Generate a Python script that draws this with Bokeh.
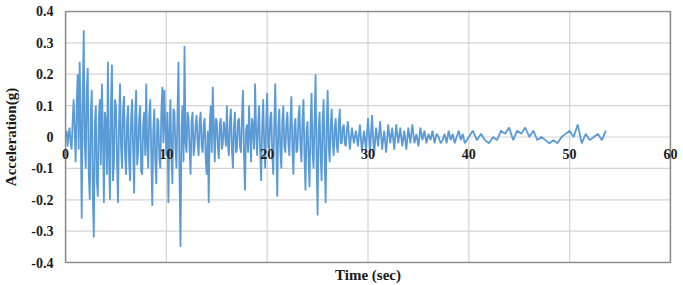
import numpy as np
from bokeh.plotting import figure
from bokeh.models import Range1d, FixedTicker, LinearAxis
from bokeh.embed import file_html
from bokeh.resources import INLINE

# ---- data ----
dt_a = 0.1   # s, 0 - 27.9 s
dt_b = 0.2   # s, 28 - 39.8 s
dt_c = 0.4   # s, 40 - 53.6 s

acc_a = [
    0.00, 0.02, -0.03, 0.01, 0.03, -0.02, -0.04, 0.05, 0.12, 0.02,
    -0.08, 0.10, 0.20, -0.04, 0.24, 0.05, -0.26, 0.12, 0.34, -0.02,
    -0.10, 0.15, 0.22, -0.12, -0.20, 0.08, 0.15, -0.18, -0.32, 0.04,
    0.10, -0.14, -0.19, 0.06, 0.12, -0.09, 0.17, 0.02, -0.21, 0.08,
    0.05, -0.12, 0.24, -0.06, -0.20, 0.10, 0.23, -0.14, -0.08, 0.12,
    0.10, -0.07, -0.21, 0.04, 0.17, -0.03, -0.10, 0.09, 0.13, -0.06,
    -0.12, 0.05, 0.10, -0.08, -0.14, 0.06, 0.12, -0.04, -0.18, 0.07,
    0.15, -0.09, -0.05, 0.06, 0.10, -0.11, -0.12, 0.04, 0.08, -0.06,
    0.17, -0.03, -0.10, 0.07, 0.12, -0.05, -0.22, 0.02, 0.09, -0.08,
    -0.15, 0.06, 0.05, -0.07, -0.10, 0.08, 0.16, -0.02, 0.15, 0.03,
    -0.06, 0.08, -0.21, 0.01, 0.12, -0.06, -0.15, 0.09, 0.08, -0.04,
    -0.10, 0.07, 0.24, -0.12, -0.35, 0.03, 0.10, -0.08, 0.29, -0.02,
    -0.05, 0.08, 0.06, -0.04, -0.12, 0.05, 0.08, -0.06, -0.03, 0.04,
    0.07, -0.02, -0.06, 0.05, 0.08, -0.03, -0.05, 0.04, 0.06, -0.07,
    -0.12, 0.02, -0.21, 0.04, 0.10, -0.05, 0.16, 0.03, -0.08, 0.06,
    0.05, -0.03, -0.07, 0.04, 0.06, -0.04, -0.02, 0.05, 0.02, -0.03,
    0.10, -0.02, -0.06, 0.05, 0.09, -0.04, -0.10, 0.03, 0.08, -0.05,
    -0.04, 0.05, 0.06, -0.03, -0.05, 0.07, 0.15, -0.06, -0.17, 0.02,
    0.04, -0.05, 0.10, 0.01, -0.08, 0.06, 0.03, -0.04, 0.17, 0.02,
    -0.06, 0.04, 0.10, -0.05, -0.14, 0.03, 0.12, -0.02, -0.10, 0.05,
    0.14, -0.03, -0.04, 0.06, 0.08, -0.05, -0.12, 0.04, 0.17, -0.02,
    -0.19, 0.03, 0.09, -0.04, -0.10, 0.05, 0.10, -0.03, -0.05, 0.04,
    0.08, -0.02, -0.06, 0.05, 0.13, -0.04, -0.12, 0.03, 0.06, -0.05,
    -0.04, 0.06, 0.10, -0.03, -0.08, 0.05, 0.12, -0.06, -0.17, 0.02,
    0.05, -0.07, -0.16, 0.04, 0.14, -0.05, -0.10, 0.06, 0.20, -0.08,
    -0.25, 0.03, 0.08, -0.06, -0.14, 0.05, 0.12, -0.07, -0.21, 0.04,
    0.15, -0.03, -0.08, 0.04, 0.09, -0.02, -0.06, 0.03, 0.06, -0.03,
    -0.05, 0.04, 0.09, -0.02, -0.02, 0.03, 0.04, -0.02, -0.03, 0.02,
]
acc_b = [
    0.05, -0.04, 0.03, -0.02, 0.02, -0.03, 0.04, -0.05, 0.02, -0.04,
    0.06, -0.05, 0.07, -0.06, 0.03, -0.03, 0.05, -0.04, 0.02, -0.05,
    0.04, -0.02, 0.03, -0.04, 0.04, -0.02, 0.03, -0.03, 0.02, -0.04,
    0.03, -0.02, 0.04, -0.02, 0.01, -0.03, 0.03, -0.01, 0.02, -0.02,
    0.01, -0.01, 0.02, -0.02, 0.01, 0.00, -0.02, -0.01, 0.01, -0.02,
    0.02, -0.01, 0.01, -0.02, 0.00, 0.02, -0.01, 0.01, -0.02, -0.01,
]
acc_c = [
    0.00, 0.02, -0.01, 0.01, -0.01, -0.02, 0.00, -0.01, 0.02, 0.01,
    0.03, -0.01, 0.02, 0.01, 0.03, 0.00, 0.02, -0.01, 0.00, -0.01,
    -0.02, -0.01, -0.02, 0.00, 0.01, 0.02, 0.00, 0.04, -0.02, 0.01,
    -0.01, 0.00, 0.01, -0.01, 0.02,
]

x_ticks = [0, 10, 20, 30, 40, 50, 60]
x_tick_labels = ["0", "10", "20", "30", "40", "50", "60"]
y_ticks = [-0.4, -0.3, -0.2, -0.1, 0.0, 0.1, 0.2, 0.3, 0.4]
y_tick_labels = ["-0.4", "-0.3", "-0.2", "-0.1", "0", "0.1", "0.2", "0.3", "0.4"]
x_title = "Time (sec)"
y_title = "Acceleration(g)"

# ---- build ----
t_a = np.arange(len(acc_a)) * dt_a
t_b = len(acc_a) * dt_a + np.arange(len(acc_b)) * dt_b
t_c = t_b[-1] + dt_b + np.arange(len(acc_c)) * dt_c
t = np.concatenate([t_a, t_b, t_c])
acc = np.array(acc_a + acc_b + acc_c)

xmin, xmax = min(x_ticks), max(x_ticks)
ymin, ymax = min(y_ticks), max(y_ticks)

FONT = "'Liberation Serif', 'Times New Roman', serif"
TXT = "#1a1a1a"
GRID = "#d4d4d4"
BORDER = "#8a8a8a"

# the frame is a little wider than the 0-60 box so that the edge labels
# "0" and "60" are not clipped; the box itself is drawn from the tick lists
p = figure(width=683, height=285, output_backend="svg", toolbar_location=None,
           x_range=Range1d(xmin - 0.9, xmax + 0.9),
           y_range=Range1d(ymin - 0.003, ymax + 0.003),
           min_border_left=55, min_border_right=4, min_border_top=10,
           min_border_bottom=0)
p.background_fill_color = "white"
p.border_fill_color = "white"
p.outline_line_color = None
p.grid.visible = False

# grid lines
p.segment(x0=x_ticks, y0=[ymin] * len(x_ticks), x1=x_ticks, y1=[ymax] * len(x_ticks),
          line_color=GRID, line_width=1.2)
p.segment(x0=[xmin] * len(y_ticks), y0=y_ticks, x1=[xmax] * len(y_ticks), y1=y_ticks,
          line_color=GRID, line_width=1.2)

# record
p.line(t, acc, line_color="#5B9BD5", line_width=1.8)

# plot-area border
p.quad(left=[xmin], right=[xmax], bottom=[ymin], top=[ymax],
       fill_color=None, line_color=BORDER, line_width=1.5)

# bottom axis: title only
xa = p.xaxis[0]
xa.ticker = FixedTicker(ticks=[])
xa.axis_line_color = None
xa.major_tick_line_color = None
xa.minor_tick_line_color = None
xa.major_label_text_font_size = "0px"
xa.major_label_standoff = 0
xa.major_tick_out = 0
xa.axis_label = x_title
xa.axis_label_standoff = 3
xa.axis_label_text_font = FONT
xa.axis_label_text_font_style = "bold"
xa.axis_label_text_font_size = "15px"
xa.axis_label_text_color = TXT

# x tick labels drawn along the zero line (axis crossing at y = 0)
x0 = LinearAxis(fixed_location=0, ticker=FixedTicker(ticks=x_ticks),
                major_label_overrides={tk: lb for tk, lb in zip(x_ticks, x_tick_labels)},
                axis_line_color=None, major_tick_line_color=None,
                minor_tick_line_color=None, major_tick_out=0, major_tick_in=0,
                major_label_standoff=12, major_label_text_font=FONT,
                major_label_text_font_style="bold",
                major_label_text_font_size="14px",
                major_label_text_color=TXT)
p.add_layout(x0, "below")

ya = p.yaxis[0]
ya.ticker = FixedTicker(ticks=y_ticks)
ya.major_label_overrides = {tk: lb for tk, lb in zip(y_ticks, y_tick_labels)}
ya.axis_line_color = None
ya.major_tick_line_color = None
ya.minor_tick_line_color = None
ya.major_tick_out = 0
ya.major_label_standoff = 3
ya.major_label_text_font = FONT
ya.major_label_text_font_style = "bold"
ya.major_label_text_font_size = "14px"
ya.major_label_text_color = TXT
ya.axis_label = y_title
ya.axis_label_standoff = 9
ya.axis_label_text_font = FONT
ya.axis_label_text_font_style = "bold"
ya.axis_label_text_font_size = "15px"
ya.axis_label_text_color = TXT

open("out.html", "w").write(file_html(p, INLINE))
